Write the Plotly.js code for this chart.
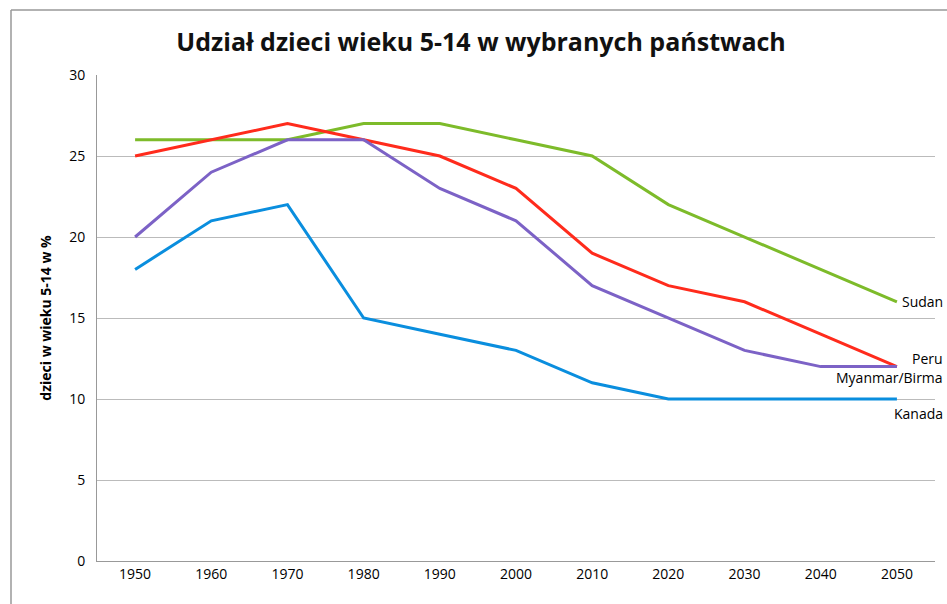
<!DOCTYPE html>
<html>
<head>
<meta charset="utf-8">
<script src="https://cdn.plot.ly/plotly-3.0.1.min.js"></script>
<style>html,body{margin:0;padding:0;background:#fff;}#chart{width:947px;height:604px;}</style>
</head>
<body>
<div id="chart"></div>
<script>
const years = ['1950','1960','1970','1980','1990','2000','2010','2020','2030','2040','2050'];
const sudan = [26,26,26,27,27,26,25,22,20,18,16];
const peru = [25,26,27,26,25,23,19,17,16,14,12];
const myanmar = [20,24,26,26,23,21,17,15,13,12,12];
const kanada = [18,21,22,15,14,13,11,10,10,10,10];
const seriesNames = ['Sudan','Peru','Myanmar/Birma','Kanada'];
const seriesValues = [sudan, peru, myanmar, kanada];
const colors = ['#7dbb2a','#ff2b1c','#7c62c6','#0a8ede'];
const labelY = [16.0, 12.5, 11.3, 9.1];
const yTicks = [0,5,10,15,20,25,30];

const traces = seriesNames.map((n,i)=>({
  x: years, y: seriesValues[i], name: n, type:'scatter', mode:'lines',
  line:{color:colors[i], width:3}
}));

const fontFam = '"Open Sans", "Liberation Sans", sans-serif';
const fx = v => (v-97)/838;
const fy = v => (561-v)/486;
const layout = {
  width:947, height:604,
  margin:{l:97, r:12, t:75, b:43},
  showlegend:false,
  paper_bgcolor:'#fff', plot_bgcolor:'#fff',
  font:{family:fontFam, color:'#000', size:13},
  title:{text:'<b>Udział dzieci wieku 5-14 w wybranych państwach</b>', x:0.508, xanchor:'center', y:0.93, yanchor:'middle', font:{size:25, family:fontFam, color:'#111'}},
  xaxis:{type:'category', tickvals:years, ticktext:years, showgrid:false, showline:true, linecolor:'#999', linewidth:1, ticks:'', tickfont:{size:14}, range:[-0.5,10.5], zeroline:false},
  yaxis:{range:[0,30], tickvals:yTicks, showgrid:true, gridcolor:'#bbb', gridwidth:1, showline:true, linecolor:'#999', ticks:'', tickfont:{size:14}, ticklabelstandoff:8, zeroline:false,
    title:{text:'<b>dzieci w wieku 5-14 w %</b>', font:{size:14}, standoff:14}},
  annotations: seriesNames.map((n,i)=>({xref:'paper', yref:'y', x:1.012, y:labelY[i], xanchor:'right', yanchor:'middle', text:n, showarrow:false, font:{size:14, color:'#000'}})),
  shapes:[
    {type:'line', xref:'paper', yref:'paper', x0:fx(11), x1:fx(947), y0:fy(10), y1:fy(10), line:{color:'#999', width:1.5}},
    {type:'line', xref:'paper', yref:'paper', x0:fx(11), x1:fx(11), y0:fy(10), y1:fy(604), line:{color:'#999', width:1.5}}
  ]
};
Plotly.newPlot('chart', traces, layout, {displayModeBar:false, staticPlot:true});
</script>
</body>
</html>
